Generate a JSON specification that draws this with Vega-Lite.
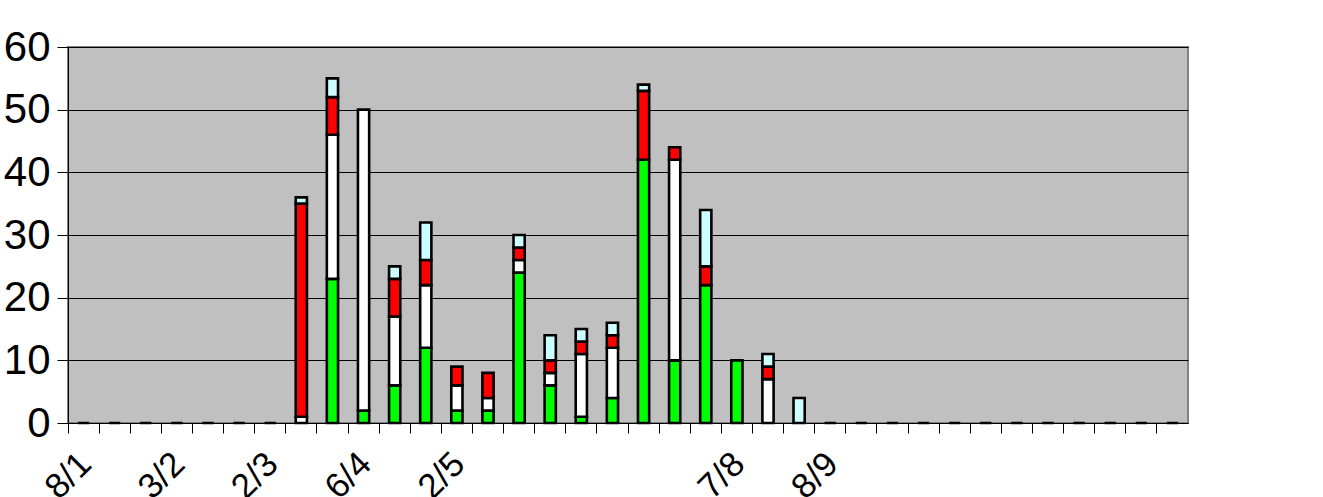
{
  "$schema": "https://vega.github.io/schema/vega-lite/v6.json",
  "width": 1120,
  "height": 376,
  "autosize": {"type": "none"},
  "padding": {"left": 68, "top": 47, "right": 135, "bottom": 74},
  "background": "white",
  "config": {
    "view": {"fill": "#c0c0c0", "stroke": "#808080", "strokeWidth": 2},
    "font": "Liberation Sans"
  },
  "data": {
    "values": [
      {"idx": 0, "k": 1, "v": 0}, {"idx": 1, "k": 1, "v": 0}, {"idx": 2, "k": 1, "v": 0},
      {"idx": 3, "k": 1, "v": 0}, {"idx": 4, "k": 1, "v": 0}, {"idx": 5, "k": 1, "v": 0},
      {"idx": 6, "k": 1, "v": 0},
      {"idx": 7, "k": 2, "v": 1}, {"idx": 7, "k": 3, "v": 34}, {"idx": 7, "k": 4, "v": 1},
      {"idx": 8, "k": 1, "v": 23}, {"idx": 8, "k": 2, "v": 23}, {"idx": 8, "k": 3, "v": 6}, {"idx": 8, "k": 4, "v": 3},
      {"idx": 9, "k": 1, "v": 2}, {"idx": 9, "k": 2, "v": 48},
      {"idx": 10, "k": 1, "v": 6}, {"idx": 10, "k": 2, "v": 11}, {"idx": 10, "k": 3, "v": 6}, {"idx": 10, "k": 4, "v": 2},
      {"idx": 11, "k": 1, "v": 12}, {"idx": 11, "k": 2, "v": 10}, {"idx": 11, "k": 3, "v": 4}, {"idx": 11, "k": 4, "v": 6},
      {"idx": 12, "k": 1, "v": 2}, {"idx": 12, "k": 2, "v": 4}, {"idx": 12, "k": 3, "v": 3},
      {"idx": 13, "k": 1, "v": 2}, {"idx": 13, "k": 2, "v": 2}, {"idx": 13, "k": 3, "v": 4},
      {"idx": 14, "k": 1, "v": 24}, {"idx": 14, "k": 2, "v": 2}, {"idx": 14, "k": 3, "v": 2}, {"idx": 14, "k": 4, "v": 2},
      {"idx": 15, "k": 1, "v": 6}, {"idx": 15, "k": 2, "v": 2}, {"idx": 15, "k": 3, "v": 2}, {"idx": 15, "k": 4, "v": 4},
      {"idx": 16, "k": 1, "v": 1}, {"idx": 16, "k": 2, "v": 10}, {"idx": 16, "k": 3, "v": 2}, {"idx": 16, "k": 4, "v": 2},
      {"idx": 17, "k": 1, "v": 4}, {"idx": 17, "k": 2, "v": 8}, {"idx": 17, "k": 3, "v": 2}, {"idx": 17, "k": 4, "v": 2},
      {"idx": 18, "k": 1, "v": 42}, {"idx": 18, "k": 3, "v": 11}, {"idx": 18, "k": 4, "v": 1},
      {"idx": 19, "k": 1, "v": 10}, {"idx": 19, "k": 2, "v": 32}, {"idx": 19, "k": 3, "v": 2},
      {"idx": 20, "k": 1, "v": 22}, {"idx": 20, "k": 3, "v": 3}, {"idx": 20, "k": 4, "v": 9},
      {"idx": 21, "k": 1, "v": 10},
      {"idx": 22, "k": 2, "v": 7}, {"idx": 22, "k": 3, "v": 2}, {"idx": 22, "k": 4, "v": 2},
      {"idx": 23, "k": 4, "v": 4},
      {"idx": 24, "k": 1, "v": 0}, {"idx": 25, "k": 1, "v": 0}, {"idx": 26, "k": 1, "v": 0},
      {"idx": 27, "k": 1, "v": 0}, {"idx": 28, "k": 1, "v": 0}, {"idx": 29, "k": 1, "v": 0},
      {"idx": 30, "k": 1, "v": 0}, {"idx": 31, "k": 1, "v": 0}, {"idx": 32, "k": 1, "v": 0},
      {"idx": 33, "k": 1, "v": 0}, {"idx": 34, "k": 1, "v": 0}, {"idx": 35, "k": 1, "v": 0}
    ]
  },
  "mark": {"type": "bar", "width": {"band": 0.36}, "stroke": "black", "strokeWidth": 2.6},
  "encoding": {
    "x": {
      "field": "idx",
      "type": "ordinal",
      "scale": {"paddingInner": 0, "paddingOuter": 0},
      "axis": {
        "title": null,
        "bandPosition": 0,
        "domainColor": "black",
        "domainWidth": 1,
        "tickColor": "black",
        "tickSize": 10,
        "labelAngle": -45,
        "labelAlign": "right",
        "labelBaseline": "top",
        "labelOffset": -10,
        "labelPadding": 13,
        "labelFontSize": 35,
        "labelColor": "black",
        "labelFont": "Liberation Sans",
        "labelOverlap": false,
        "labelExpr": "datum.value == 0 ? '8/1' : datum.value == 3 ? '3/2' : datum.value == 6 ? '2/3' : datum.value == 9 ? '6/4' : datum.value == 12 ? '2/5' : datum.value == 21 ? '7/8' : datum.value == 24 ? '8/9' : ''"
      }
    },
    "y": {
      "field": "v",
      "type": "quantitative",
      "stack": "zero",
      "scale": {"domain": [0, 60], "nice": false},
      "axis": {
        "title": null,
        "values": [0, 10, 20, 30, 40, 50, 60],
        "grid": true,
        "gridColor": "black",
        "gridOpacity": 1,
        "gridWidth": 1,
        "domainColor": "black",
        "tickColor": "black",
        "tickSize": 11,
        "labelPadding": 7,
        "labelFontSize": 42,
        "labelColor": "black",
        "labelFont": "Liberation Sans"
      }
    },
    "color": {
      "field": "k",
      "type": "nominal",
      "scale": {"domain": [1, 2, 3, 4], "range": ["#00ff00", "#ffffff", "#ff0000", "#ccffff"]},
      "legend": null
    },
    "order": {"field": "k", "type": "quantitative", "sort": "ascending"}
  }
}
